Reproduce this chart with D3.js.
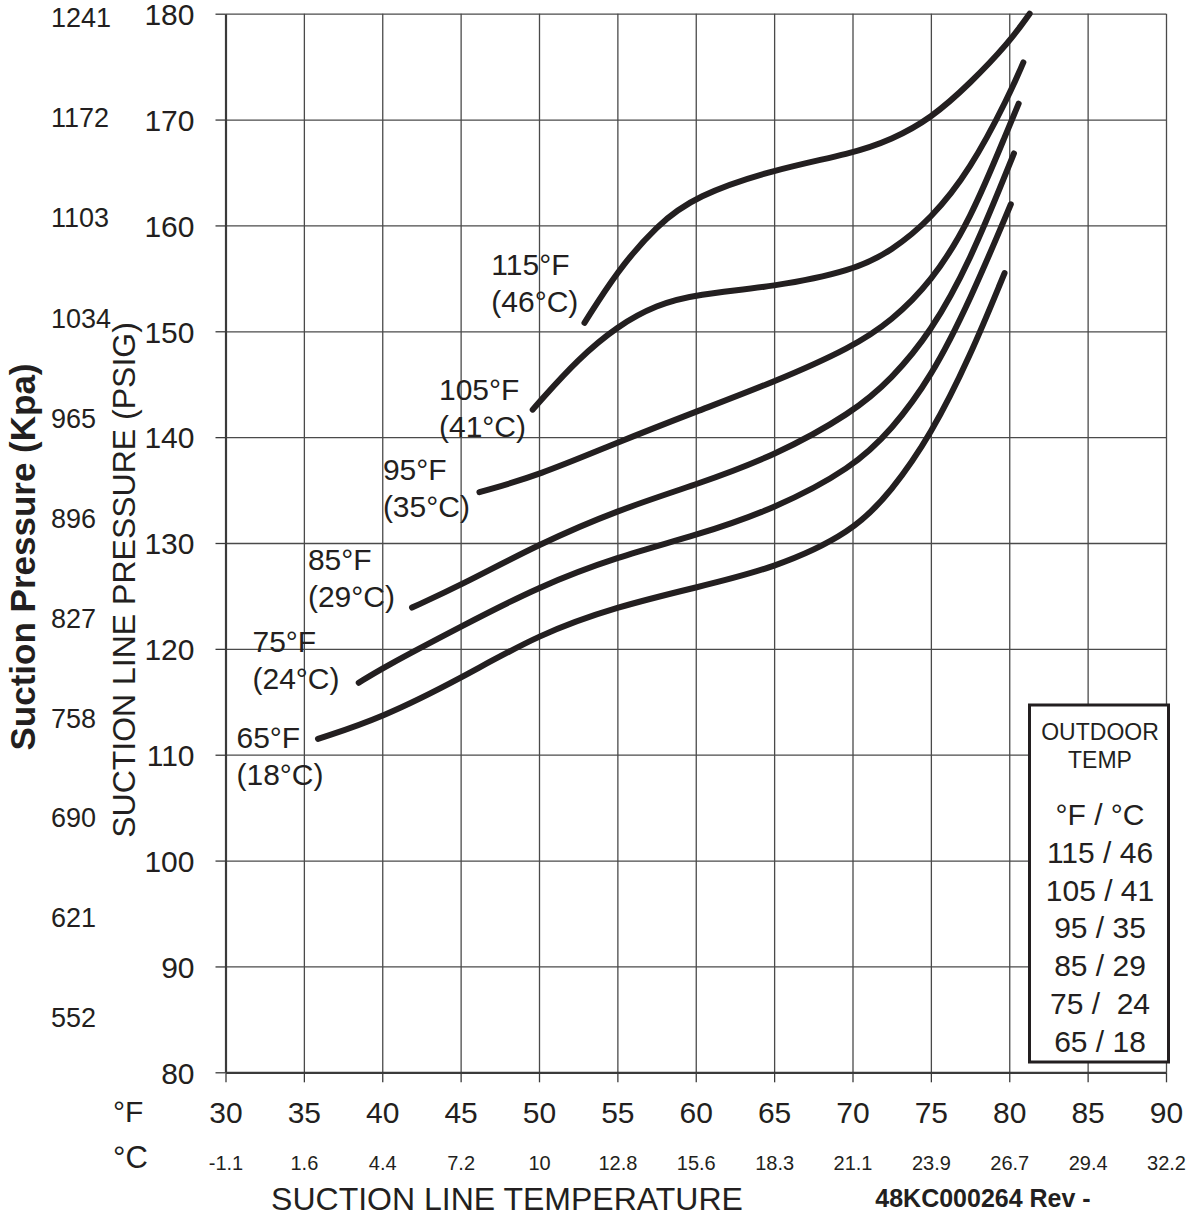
<!DOCTYPE html>
<html>
<head>
<meta charset="utf-8">
<script src="https://cdn.jsdelivr.net/npm/d3@7"></script>
<style>
  body { margin: 0; background: #fff; }
  svg text { font-family: "Liberation Sans", Arial, sans-serif; fill: #231f20; }
</style>
</head>
<body>
<svg id="chart" width="1188" height="1219"></svg>
<script>
// tick labels
const fTicks = [30, 35, 40, 45, 50, 55, 60, 65, 70, 75, 80, 85, 90];
const cTicks = ['-1.1', '1.6', '4.4', '7.2', '10', '12.8', '15.6', '18.3', '21.1', '23.9', '26.7', '29.4', '32.2'];
const psigTicks = [80, 90, 100, 110, 120, 130, 140, 150, 160, 170, 180];
const kpaTicks = [1241, 1172, 1103, 1034, 965, 896, 827, 758, 690, 621, 552];

// curves: [suction line temp °F, suction pressure psig]
const curve115 = [[52.9, 150.8], [55, 155.7], [57.5, 160.0], [60, 162.8], [65, 165.3], [70, 166.8], [72.5, 168.1], [75, 170.1], [77.5, 173.4], [80, 177.3], [81.3, 180]];
const curve105 = [[49.6, 142.6], [50, 143.3], [52.5, 147.4], [55, 150.5], [57.5, 152.5], [60, 153.5], [65, 154.2], [70, 155.7], [72.5, 157.6], [75, 160.6], [77.5, 165.2], [80, 172.3], [80.9, 175.4]];
const curve95 = [[46.2, 134.8], [50, 136.4], [55, 139.5], [60, 142.4], [65, 145.2], [70, 148.5], [72.5, 151.0], [75, 154.6], [77.5, 160.4], [80, 169.4], [80.6, 171.5]];
const curve85 = [[41.9, 123.9], [45, 126.0], [50, 129.9], [55, 133.1], [60, 135.5], [65, 138.2], [70, 142.3], [72.5, 145.5], [75, 149.9], [77.5, 156.6], [80, 165.7], [80.3, 166.8]];
const curve75 = [[38.5, 116.8], [40, 118.2], [45, 122.1], [50, 125.9], [55, 128.7], [60, 130.7], [65, 133.2], [70, 137.1], [72.5, 140.7], [75, 145.6], [77.5, 152.9], [80.1, 162.0]];
const curve65 = [[35.9, 111.5], [40, 113.5], [45, 117.2], [50, 121.4], [55, 124.0], [60, 125.8], [65, 127.6], [70, 131.0], [72.5, 134.9], [75, 140.2], [77.5, 147.6], [79.7, 155.5]];

const curves = [curve115, curve105, curve95, curve85, curve75, curve65];
const curveNames = [['115°F', '(46°C)'], ['105°F', '(41°C)'], ['95°F', '(35°C)'], ['85°F', '(29°C)'], ['75°F', '(24°C)'], ['65°F', '(18°C)']];
// where each curve label starts, in chart units
const labelAt = [[46.96, 155.3], [43.62, 143.5], [40.04, 135.95], [35.26, 127.45], [31.72, 119.75], [30.7, 110.64]];

const legendRows = ['°F / °C', '115 / 46', '105 / 41', '95 / 35', '85 / 29', '75 /  24', '65 / 18'];

const ink = '#231f20';
const fontStack = '"Liberation Sans", Arial, sans-serif';
const svg = d3.select('#chart');

const x = d3.scaleLinear().domain([30, 90]).range([225.5, 1166]);
const y = d3.scaleLinear().domain([80, 180]).range([1072.3, 13.7]);
const kpaY = d3.scaleLinear().domain([1241, 552]).range([18, 1018]);

const plotLeft = x.range()[0], plotRight = x.range()[1];
const plotTop = y.range()[1], plotBottom = y.range()[0];

// grid
svg.append('g')
  .attr('transform', `translate(0,${plotBottom})`)
  .call(d3.axisBottom(x).tickValues(fTicks.slice(1)).tickSize(-(plotBottom - plotTop)).tickFormat(''))
  .call(g => g.select('.domain').remove())
  .selectAll('line').attr('stroke', '#4a4a4a').attr('stroke-width', 1.3);

svg.append('g')
  .attr('transform', `translate(${plotLeft},0)`)
  .call(d3.axisLeft(y).tickValues(psigTicks.slice(1)).tickSize(-(plotRight - plotLeft)).tickFormat(''))
  .call(g => g.select('.domain').remove())
  .selectAll('line').attr('stroke', '#4a4a4a').attr('stroke-width', 1.3);

// axes
const yAxis = svg.append('g')
  .attr('transform', `translate(${plotLeft},0)`)
  .call(d3.axisLeft(y).tickValues(psigTicks).tickSize(10).tickSizeOuter(0).tickPadding(21));
yAxis.select('.domain').attr('stroke', '#3a3a3a').attr('stroke-width', 2.2);
yAxis.selectAll('line').attr('stroke', '#3a3a3a').attr('stroke-width', 1.3);
yAxis.selectAll('text').attr('font-size', 30).attr('dy', '0.36em');

const xAxis = svg.append('g')
  .attr('transform', `translate(0,${plotBottom})`)
  .call(d3.axisBottom(x).tickValues(fTicks).tickSize(10).tickSizeOuter(0).tickPadding(19));
xAxis.select('.domain').attr('stroke', '#3a3a3a').attr('stroke-width', 2.2);
xAxis.selectAll('line').attr('stroke', '#3a3a3a').attr('stroke-width', 1.3);
xAxis.selectAll('text').attr('font-size', 30);

const cAxis = svg.append('g')
  .attr('transform', `translate(0,${plotBottom})`)
  .call(d3.axisBottom(x).tickValues(fTicks).tickSize(0).tickPadding(84).tickFormat((d, i) => cTicks[i]));
cAxis.select('.domain').remove();
cAxis.selectAll('text').attr('font-size', 20);

const kAxis = svg.append('g')
  .attr('transform', 'translate(51,0)')
  .call(d3.axisRight(kpaY).tickValues(kpaTicks).tickSize(0).tickPadding(0).tickFormat(d3.format('d')));
kAxis.select('.domain').remove();
kAxis.selectAll('text').attr('font-size', 27);

// curves
const line = d3.line()
  .x(d => x(d[0]))
  .y(d => y(d[1]))
  .curve(d3.curveBasis);

svg.append('g').selectAll('path')
  .data(curves)
  .join('path')
  .attr('d', line)
  .attr('fill', 'none')
  .attr('stroke', ink)
  .attr('stroke-width', 6)
  .attr('stroke-linecap', 'round');

// curve labels
const lbl = svg.append('g').selectAll('text')
  .data(curveNames)
  .join('text')
  .attr('x', (d, i) => x(labelAt[i][0]))
  .attr('y', (d, i) => y(labelAt[i][1]))
  .attr('font-size', 30);
lbl.append('tspan').text(d => d[0]);
lbl.append('tspan')
  .attr('x', (d, i) => x(labelAt[i][0]))
  .attr('dy', 37)
  .text(d => d[1]);

// axis titles
svg.append('text')
  .attr('transform', 'translate(35,557) rotate(-90)')
  .attr('text-anchor', 'middle')
  .attr('font-size', 35)
  .attr('font-weight', 'bold')
  .text('Suction Pressure (Kpa)');

svg.append('text')
  .attr('transform', 'translate(135,580) rotate(-90)')
  .attr('text-anchor', 'middle')
  .attr('font-size', 32)
  .text('SUCTION LINE PRESSURE (PSIG)');

svg.append('text')
  .attr('x', 113).attr('y', 1122)
  .attr('font-size', 30)
  .text('°F');
svg.append('text')
  .attr('x', 113).attr('y', 1168)
  .attr('font-size', 31)
  .text('°C');

svg.append('text')
  .attr('x', 507).attr('y', 1210)
  .attr('text-anchor', 'middle')
  .attr('font-size', 32)
  .text('SUCTION LINE TEMPERATURE');

svg.append('text')
  .attr('x', 983).attr('y', 1207)
  .attr('text-anchor', 'middle')
  .attr('font-size', 25)
  .attr('font-weight', 'bold')
  .text('48KC000264 Rev -');

// legend box
const leg = svg.append('g');
leg.append('rect')
  .attr('x', 1029.5).attr('y', 705)
  .attr('width', 139).attr('height', 357)
  .attr('fill', '#fff')
  .attr('stroke', ink)
  .attr('stroke-width', 3);
leg.append('text')
  .attr('x', 1100).attr('y', 740)
  .attr('text-anchor', 'middle')
  .attr('font-size', 23)
  .text('OUTDOOR');
leg.append('text')
  .attr('x', 1100).attr('y', 768)
  .attr('text-anchor', 'middle')
  .attr('font-size', 23)
  .text('TEMP');
leg.selectAll('text.row')
  .data(legendRows)
  .join('text')
  .attr('class', 'row')
  .attr('x', 1100)
  .attr('y', (d, i) => 825 + i * 37.8)
  .attr('text-anchor', 'middle')
  .attr('font-size', 30)
  .style('white-space', 'pre')
  .text(d => d);

// one font for every text, including the axis labels
svg.selectAll('text')
  .style('font-family', fontStack)
  .style('fill', ink);
</script>
</body>
</html>
